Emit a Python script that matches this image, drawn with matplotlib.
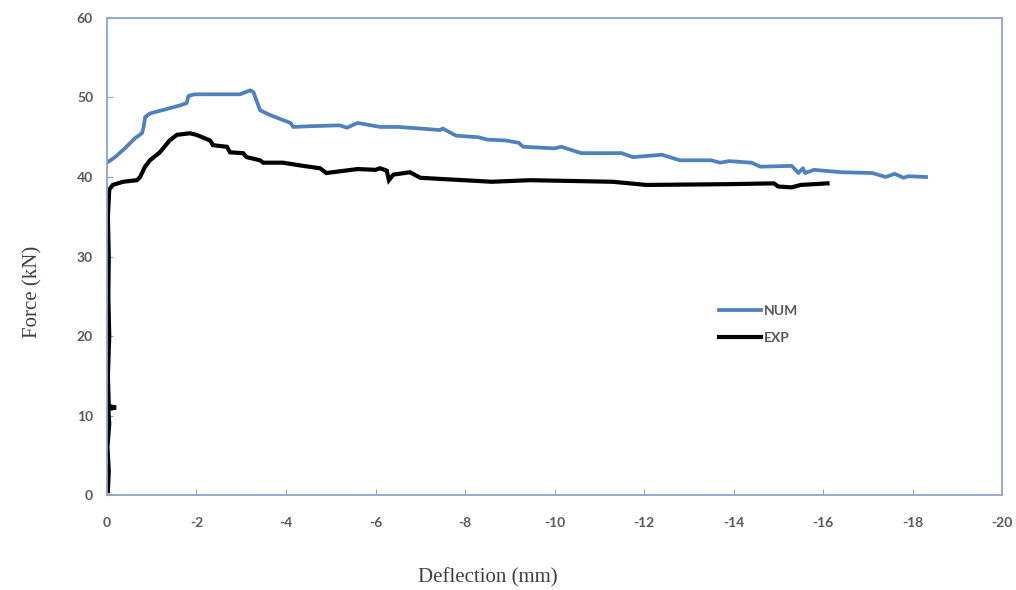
import numpy as np
import matplotlib
matplotlib.use("Agg")
import matplotlib.pyplot as plt

# numerical curve (deflection mm, force kN)
num_x = [0.0, -0.18, -0.4, -0.63, -0.78, -0.82, -0.85, -0.96, -1.3, -1.63, -1.78, -1.82, -1.95,
         -2.97, -3.2, -3.27, -3.42, -3.64, -4.1, -4.16, -4.6, -5.2, -5.36, -5.6, -6.1, -6.5,
         -7.0, -7.44, -7.5, -7.8, -8.3, -8.5, -8.9, -9.2, -9.3, -10.0, -10.15, -10.6, -11.5,
         -11.75, -12.4, -12.8, -13.5, -13.7, -13.9, -14.4, -14.6, -15.3, -15.45, -15.55, -15.6,
         -15.8, -16.4, -17.1, -17.4, -17.6, -17.8, -17.9, -18.3]
num_y = [41.8, 42.5, 43.6, 44.9, 45.5, 46.3, 47.5, 48.0, 48.5, 49.0, 49.3, 50.2, 50.4,
         50.4, 50.9, 50.7, 48.4, 47.8, 46.8, 46.3, 46.4, 46.5, 46.2, 46.8, 46.3, 46.3,
         46.1, 45.9, 46.1, 45.2, 45.0, 44.7, 44.6, 44.3, 43.8, 43.6, 43.8, 43.0, 43.0,
         42.5, 42.8, 42.1, 42.1, 41.8, 42.0, 41.8, 41.3, 41.4, 40.5, 41.1, 40.5,
         40.9, 40.6, 40.5, 40.0, 40.4, 39.9, 40.1, 40.0]

# experimental curve
exp_x = [-0.02, -0.04, -0.01, -0.05, -0.03, -0.2, -0.04, -0.02, -0.05, -0.03, -0.04, -0.02,
         -0.05, -0.13, -0.36, -0.67, -0.74, -0.85, -0.96, -1.18, -1.4, -1.56, -1.85, -2.0,
         -2.3, -2.37, -2.68, -2.75, -3.04, -3.12, -3.42, -3.49, -3.93, -4.38, -4.76, -4.9,
         -5.6, -6.0, -6.1, -6.25, -6.3, -6.4, -6.77, -7.0, -8.6, -9.45, -11.3, -12.05, -13.9,
         -14.9, -15.0, -15.3, -15.5, -16.1]
exp_y = [0.5, 3.0, 6.0, 9.0, 10.8, 11.0, 11.2, 15.0, 20.0, 25.0, 30.0, 35.0,
         38.4, 39.0, 39.4, 39.6, 40.0, 41.3, 42.1, 43.1, 44.6, 45.3, 45.5, 45.3,
         44.6, 44.0, 43.8, 43.1, 43.0, 42.5, 42.1, 41.8, 41.8, 41.4, 41.1, 40.5,
         41.0, 40.9, 41.1, 40.8, 39.6, 40.3, 40.6, 39.9, 39.4, 39.6, 39.4, 39.0, 39.1,
         39.2, 38.8, 38.7, 39.0, 39.2]

x_ticks = [0, -2, -4, -6, -8, -10, -12, -14, -16, -18, -20]
y_ticks = [0, 10, 20, 30, 40, 50, 60]

spine_col = "#8EA5C6"
tick_col = "#595959"

fig = plt.figure(figsize=(10.16, 5.9), dpi=100)
ax = fig.add_axes([0.1053, 0.161, 0.881, 0.8085])

ax.plot(num_x, num_y, color="#4F81BD", lw=2.7, label="NUM", solid_joinstyle="round")
ax.plot(exp_x, exp_y, color="black", lw=3.0, label="EXP", solid_joinstyle="miter")

ax.set_xlim(0, -20)
ax.set_ylim(0, 60)
ax.set_xticks(x_ticks)
ax.set_yticks(y_ticks)
ax.set_xticklabels([str(t) for t in x_ticks])
for s in ax.spines.values():
    s.set_color(spine_col)
    s.set_linewidth(1.3)
ax.tick_params(direction="in", length=4, color=spine_col, labelcolor=tick_col,
               labelsize=10)
ax.tick_params(axis="x", pad=16)
ax.tick_params(axis="y", pad=10)
for lab in ax.get_xticklabels() + ax.get_yticklabels():
    lab.set_fontweight("bold")
    lab.set_family("Lato")

leg = ax.legend(loc="upper left", bbox_to_anchor=(0.67, 0.425), frameon=False,
                handlelength=3.0, handletextpad=0.2, labelspacing=1.1,
                prop={"family": "Lato", "weight": "bold", "size": 10})
for t in leg.get_texts():
    t.set_color(tick_col)

fig.text(0.032, 0.505, "Force (kN)", rotation=90, ha="center", va="center",
         family="Liberation Serif", fontsize=15, color="#404040")
fig.text(0.48, 0.02, "Deflection (mm)", ha="center", va="center",
         family="Liberation Serif", fontsize=15, color="#404040")

fig.savefig("out.png", dpi=100)
